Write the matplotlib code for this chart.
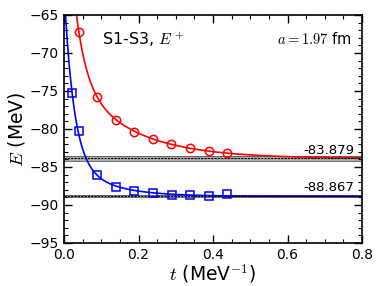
import numpy as np
import matplotlib
matplotlib.use("Agg")
import matplotlib.pyplot as plt
from matplotlib.ticker import MultipleLocator

plt.rcParams['mathtext.fontset'] = 'cm'
plt.rcParams['font.family'] = ['DejaVu Sans']

# data
t_red = [0.040, 0.089, 0.139, 0.188, 0.238, 0.288, 0.338, 0.388, 0.438]
E_red = [-67.3, -75.8, -78.85, -80.35, -81.25, -82.0, -82.5, -82.95, -83.2]
t_blue = [0.022, 0.039, 0.088, 0.139, 0.189, 0.239, 0.289, 0.338, 0.389, 0.438]
E_blue = [-75.3, -80.3, -86.1, -87.6, -88.15, -88.4, -88.65, -88.65, -88.75, -88.6]

# fit parameters: E0, A1, d1, A2, d2
fit_red = [-83.879, 29.5, 35.0, 12.1, 6.5]
fit_blue = [-88.867, 22.2, 39.0, 5.1, 10.0]
err_red = 0.28
err_blue = 0.12
labels_E0 = ["-83.879", "-88.867"]

fig = plt.figure(figsize=(3.82, 2.86), dpi=100)
ax = fig.add_axes([64/382, 1-243/286, 298/382, 228/286])

tt = np.linspace(0.001, 0.8, 800)
def model(p, t):
    return p[0] + p[1]*np.exp(-p[2]*t) + p[3]*np.exp(-p[4]*t)

for p, err in [(fit_red, err_red), (fit_blue, err_blue)]:
    ax.axhspan(p[0]-err, p[0]+err, color='0.6', alpha=0.8, lw=0, zorder=1)
    ax.axhline(p[0]-err, color='0.35', lw=0.6, zorder=1)
    ax.axhline(p[0]+err, color='0.35', lw=0.6, zorder=1)

ax.plot(tt, model(fit_red, tt), color='red', lw=1.2, zorder=2)
ax.plot(tt, model(fit_blue, tt), color='blue', lw=1.2, zorder=2)
for p in (fit_red, fit_blue):
    ax.axhline(p[0], color='black', lw=0.8, ls=(0, (2, 1)), zorder=3)

ax.plot(t_red, E_red, 'o', mfc='none', mec='red', ms=6, mew=1.1, zorder=4)
ax.plot(t_blue, E_blue, 's', mfc='none', mec='blue', ms=6, mew=1.1, zorder=4)

ax.text(0.78, fit_red[0]+0.25, labels_E0[0], ha='right', va='bottom', fontsize=9.5)
ax.text(0.78, fit_blue[0]+0.25, labels_E0[1], ha='right', va='bottom', fontsize=9.5)

ax.text(0.128, 0.868, r"S1-S3, $E^+$", transform=ax.transAxes, fontsize=11.5,
        ha='left', va='baseline')
ax.text(0.965, 0.872, r"$a = 1.97$ fm", transform=ax.transAxes, fontsize=10.5,
        ha='right', va='baseline', math_fontfamily='cm')

ax.set_xlim(0, 0.8)
ax.set_ylim(-95, -65)
ax.xaxis.set_major_locator(MultipleLocator(0.2))
ax.xaxis.set_minor_locator(MultipleLocator(0.05))
ax.yaxis.set_major_locator(MultipleLocator(5))
ax.yaxis.set_minor_locator(MultipleLocator(1))
ax.tick_params(which='both', direction='in', top=True, right=True, labelsize=10)
ax.tick_params(which='major', length=6, width=1)
ax.tick_params(which='minor', length=3, width=0.8)
for s in ax.spines.values():
    s.set_linewidth(1.2)

ax.set_xlabel(r"$t$ (MeV$^{-1}$)", fontsize=13.5, labelpad=0)
ax.set_ylabel(r"$E$ (MeV)", fontsize=13.5, labelpad=2)

fig.savefig("out.png", dpi=100)
